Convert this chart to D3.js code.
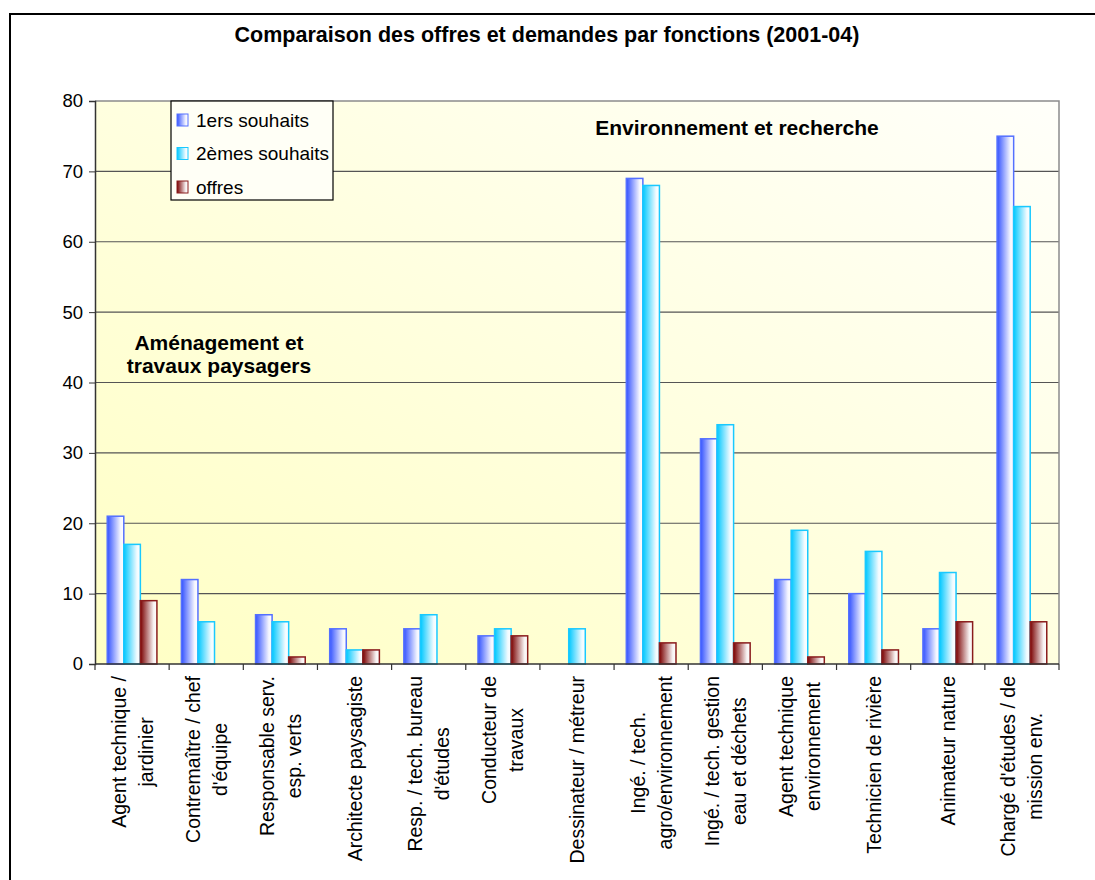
<!DOCTYPE html>
<html>
<head>
<meta charset="utf-8">
<script src="https://cdn.jsdelivr.net/npm/d3@7"></script>
<style>
  body { margin: 0; background: #fff; }
  svg { font-family: "Liberation Sans", Arial, sans-serif; }
</style>
</head>
<body>
<div id="chart"></div>
<script>
// categories (each split into the lines shown under the axis)
var categories = [
  ["Agent technique /", "jardinier"],
  ["Contremaître / chef", "d'équipe"],
  ["Responsable serv.", "esp. verts"],
  ["Architecte paysagiste"],
  ["Resp. / tech. bureau", "d'études"],
  ["Conducteur de", "travaux"],
  ["Dessinateur / métreur"],
  ["Ingé. / tech.", "agro/environnement"],
  ["Ingé. / tech. gestion", "eau et déchets"],
  ["Agent technique", "environnement"],
  ["Technicien de rivière"],
  ["Animateur nature"],
  ["Chargé d'études / de", "mission env."]
];
var souhaits1 = [21, 12, 7, 5, 5, 4, 0, 69, 32, 12, 10, 5, 75];
var souhaits2 = [17, 6, 6, 2, 7, 5, 5, 68, 34, 19, 16, 13, 65];
var offres    = [9, 0, 1, 2, 0, 4, 0, 3, 3, 1, 2, 6, 6];
var seriesNames = ["1ers souhaits", "2èmes souhaits", "offres"];
var yTicks = [0, 10, 20, 30, 40, 50, 60, 70, 80];

function drawChart() {
  var W = 1095, H = 880;
  var mLeft = 95, mRight = 1059, mTop = 101, mBottom = 664;

  var svg = d3.select("#chart").append("svg")
      .attr("width", W).attr("height", H);

  var defs = svg.append("defs");

  // plot background gradient (yellow lower-left -> pale upper-right)
  var bg = defs.append("linearGradient").attr("id", "bg")
      .attr("x1", 0).attr("y1", 1).attr("x2", 1).attr("y2", 0);
  bg.append("stop").attr("offset", "0%").attr("stop-color", "#ffffc4");
  bg.append("stop").attr("offset", "100%").attr("stop-color", "#fffffa");

  // bar gradients
  var grads = [
    {id: "g0", c0: "#3352ff", c1: "#f4f5ff", stroke: "#5470ff"},
    {id: "g1", c0: "#00c8ff", c1: "#f2fbff", stroke: "#19c9ff"},
    {id: "g2", c0: "#7a0000", c1: "#f7f2f2", stroke: "#8a1c1c"}
  ];
  grads.forEach(function(g) {
    var lg = defs.append("linearGradient").attr("id", g.id)
        .attr("x1", 0).attr("y1", 0).attr("x2", 1).attr("y2", 0);
    lg.append("stop").attr("offset", "0%").attr("stop-color", g.c0);
    lg.append("stop").attr("offset", "80%").attr("stop-color", g.c1);
    lg.append("stop").attr("offset", "100%").attr("stop-color", "#ffffff");
  });

  // outer frame
  svg.append("rect")
      .attr("x", 10).attr("y", 14)
      .attr("width", W + 20).attr("height", H + 20)
      .attr("fill", "#fff").attr("stroke", "#000").attr("stroke-width", 2);

  // title
  svg.append("text")
      .attr("x", 547).attr("y", 42)
      .attr("text-anchor", "middle")
      .attr("font-size", 21.5).attr("font-weight", "bold")
      .text("Comparaison des offres et demandes par fonctions (2001-04)");

  // scales
  var x = d3.scaleBand()
      .domain(d3.range(categories.length))
      .range([mLeft, mRight])
      .padding(0);

  var y = d3.scaleLinear()
      .domain([0, 80])
      .range([mBottom, mTop]);

  var xSub = d3.scaleBand()
      .domain([0, 1, 2])
      .range([x.bandwidth() * 0.165, x.bandwidth() * 0.835])
      .padding(0);

  // plot area
  svg.append("rect")
      .attr("x", mLeft).attr("y", mTop)
      .attr("width", mRight - mLeft).attr("height", mBottom - mTop)
      .attr("fill", "url(#bg)");

  // gridlines
  svg.append("g")
      .selectAll("line")
      .data(yTicks.filter(function(d) { return d > 0 && d < 80; }))
      .enter().append("line")
      .attr("x1", mLeft).attr("x2", mRight)
      .attr("y1", function(d) { return y(d); })
      .attr("y2", function(d) { return y(d); })
      .attr("stroke", "#555").attr("stroke-width", 1.2);

  // top and right borders of plot area
  svg.append("path")
      .attr("d", "M" + mLeft + "," + y(80) + "H" + mRight + "V" + mBottom)
      .attr("fill", "none").attr("stroke", "#8c8c8c").attr("stroke-width", 1.5);

  // bars
  var table = categories.map(function(c, i) {
    return [souhaits1[i], souhaits2[i], offres[i]];
  });

  svg.append("g")
      .selectAll("g")
      .data(table)
      .enter().append("g")
      .attr("transform", function(d, i) { return "translate(" + x(i) + ",0)"; })
      .selectAll("rect")
      .data(function(d) { return d.map(function(v, k) { return {k: k, v: v}; }).filter(function(e) { return e.v > 0; }); })
      .enter().append("rect")
      .attr("x", function(d) { return xSub(d.k); })
      .attr("y", function(d) { return y(d.v); })
      .attr("width", xSub.bandwidth())
      .attr("height", function(d) { return mBottom - y(d.v); })
      .attr("fill", function(d) { return "url(#" + grads[d.k].id + ")"; })
      .attr("stroke", function(d) { return grads[d.k].stroke; })
      .attr("stroke-width", 1.5);

  // y axis
  var yAxis = svg.append("g")
      .attr("transform", "translate(" + mLeft + ",0)")
      .call(d3.axisLeft(y).tickValues(yTicks).tickSize(6).tickPadding(6));
  yAxis.select(".domain").attr("stroke", "#333").attr("stroke-width", 1.5);
  yAxis.selectAll(".tick line").attr("stroke", "#333");
  yAxis.selectAll(".tick text")
      .attr("font-size", 18.5).attr("font-family", "Liberation Sans, Arial, sans-serif")
      .attr("fill", "#000");

  // x axis (ticks at category boundaries)
  var xAxis = svg.append("g");
  xAxis.append("line")
      .attr("x1", mLeft).attr("x2", mRight)
      .attr("y1", mBottom).attr("y2", mBottom)
      .attr("stroke", "#333").attr("stroke-width", 1.5);
  xAxis.selectAll(".xt")
      .data(d3.range(categories.length + 1))
      .enter().append("line")
      .attr("class", "xt")
      .attr("x1", function(i) { return mLeft + i * x.step(); })
      .attr("x2", function(i) { return mLeft + i * x.step(); })
      .attr("y1", mBottom).attr("y2", mBottom + 6)
      .attr("stroke", "#333").attr("stroke-width", 1.2);

  // x labels, rotated, lines centred on each other, longest line starting near the axis
  var lineGap = 27;
  categories.forEach(function(lines, i) {
    var cx = x(i) + x.bandwidth() / 2;
    var g = svg.append("g");
    var texts = lines.map(function(l) {
      return g.append("text")
          .attr("font-size", 19.5)
          .attr("text-anchor", "middle")
          .attr("dominant-baseline", "central")
          .text(l);
    });
    var maxLen = d3.max(texts, function(t) { return t.node().getComputedTextLength(); });
    var cy = 676 + maxLen / 2;
    texts.forEach(function(t, j) {
      var lx = cx + (j - (lines.length - 1) / 2) * lineGap;
      t.attr("transform", "translate(" + lx + "," + cy + ") rotate(-90)");
    });
  });

  // legend
  var legend = svg.append("g").attr("transform", "translate(171,101)");
  legend.append("rect")
      .attr("width", 162).attr("height", 99)
      .attr("fill", "#fffff6").attr("stroke", "#000").attr("stroke-width", 1.2);
  seriesNames.forEach(function(name, k) {
    var ly = 19 + k * 33.5;
    legend.append("rect")
        .attr("x", 6).attr("y", ly - 6)
        .attr("width", 11).attr("height", 12)
        .attr("fill", "url(#" + grads[k].id + ")")
        .attr("stroke", grads[k].stroke).attr("stroke-width", 1);
    legend.append("text")
        .attr("x", 25).attr("y", ly)
        .attr("dominant-baseline", "central")
        .attr("font-size", 19)
        .text(name);
  });

  // group labels
  svg.append("text")
      .attr("x", 737).attr("y", 127)
      .attr("text-anchor", "middle").attr("dominant-baseline", "central")
      .attr("font-size", 21).attr("font-weight", "bold")
      .text("Environnement et recherche");

  var amen = svg.append("text")
      .attr("text-anchor", "middle")
      .attr("font-size", 21).attr("font-weight", "bold");
  amen.append("tspan").attr("x", 219).attr("y", 350).text("Aménagement et");
  amen.append("tspan").attr("x", 219).attr("y", 373).text("travaux paysagers");
}

drawChart();
</script>
</body>
</html>
